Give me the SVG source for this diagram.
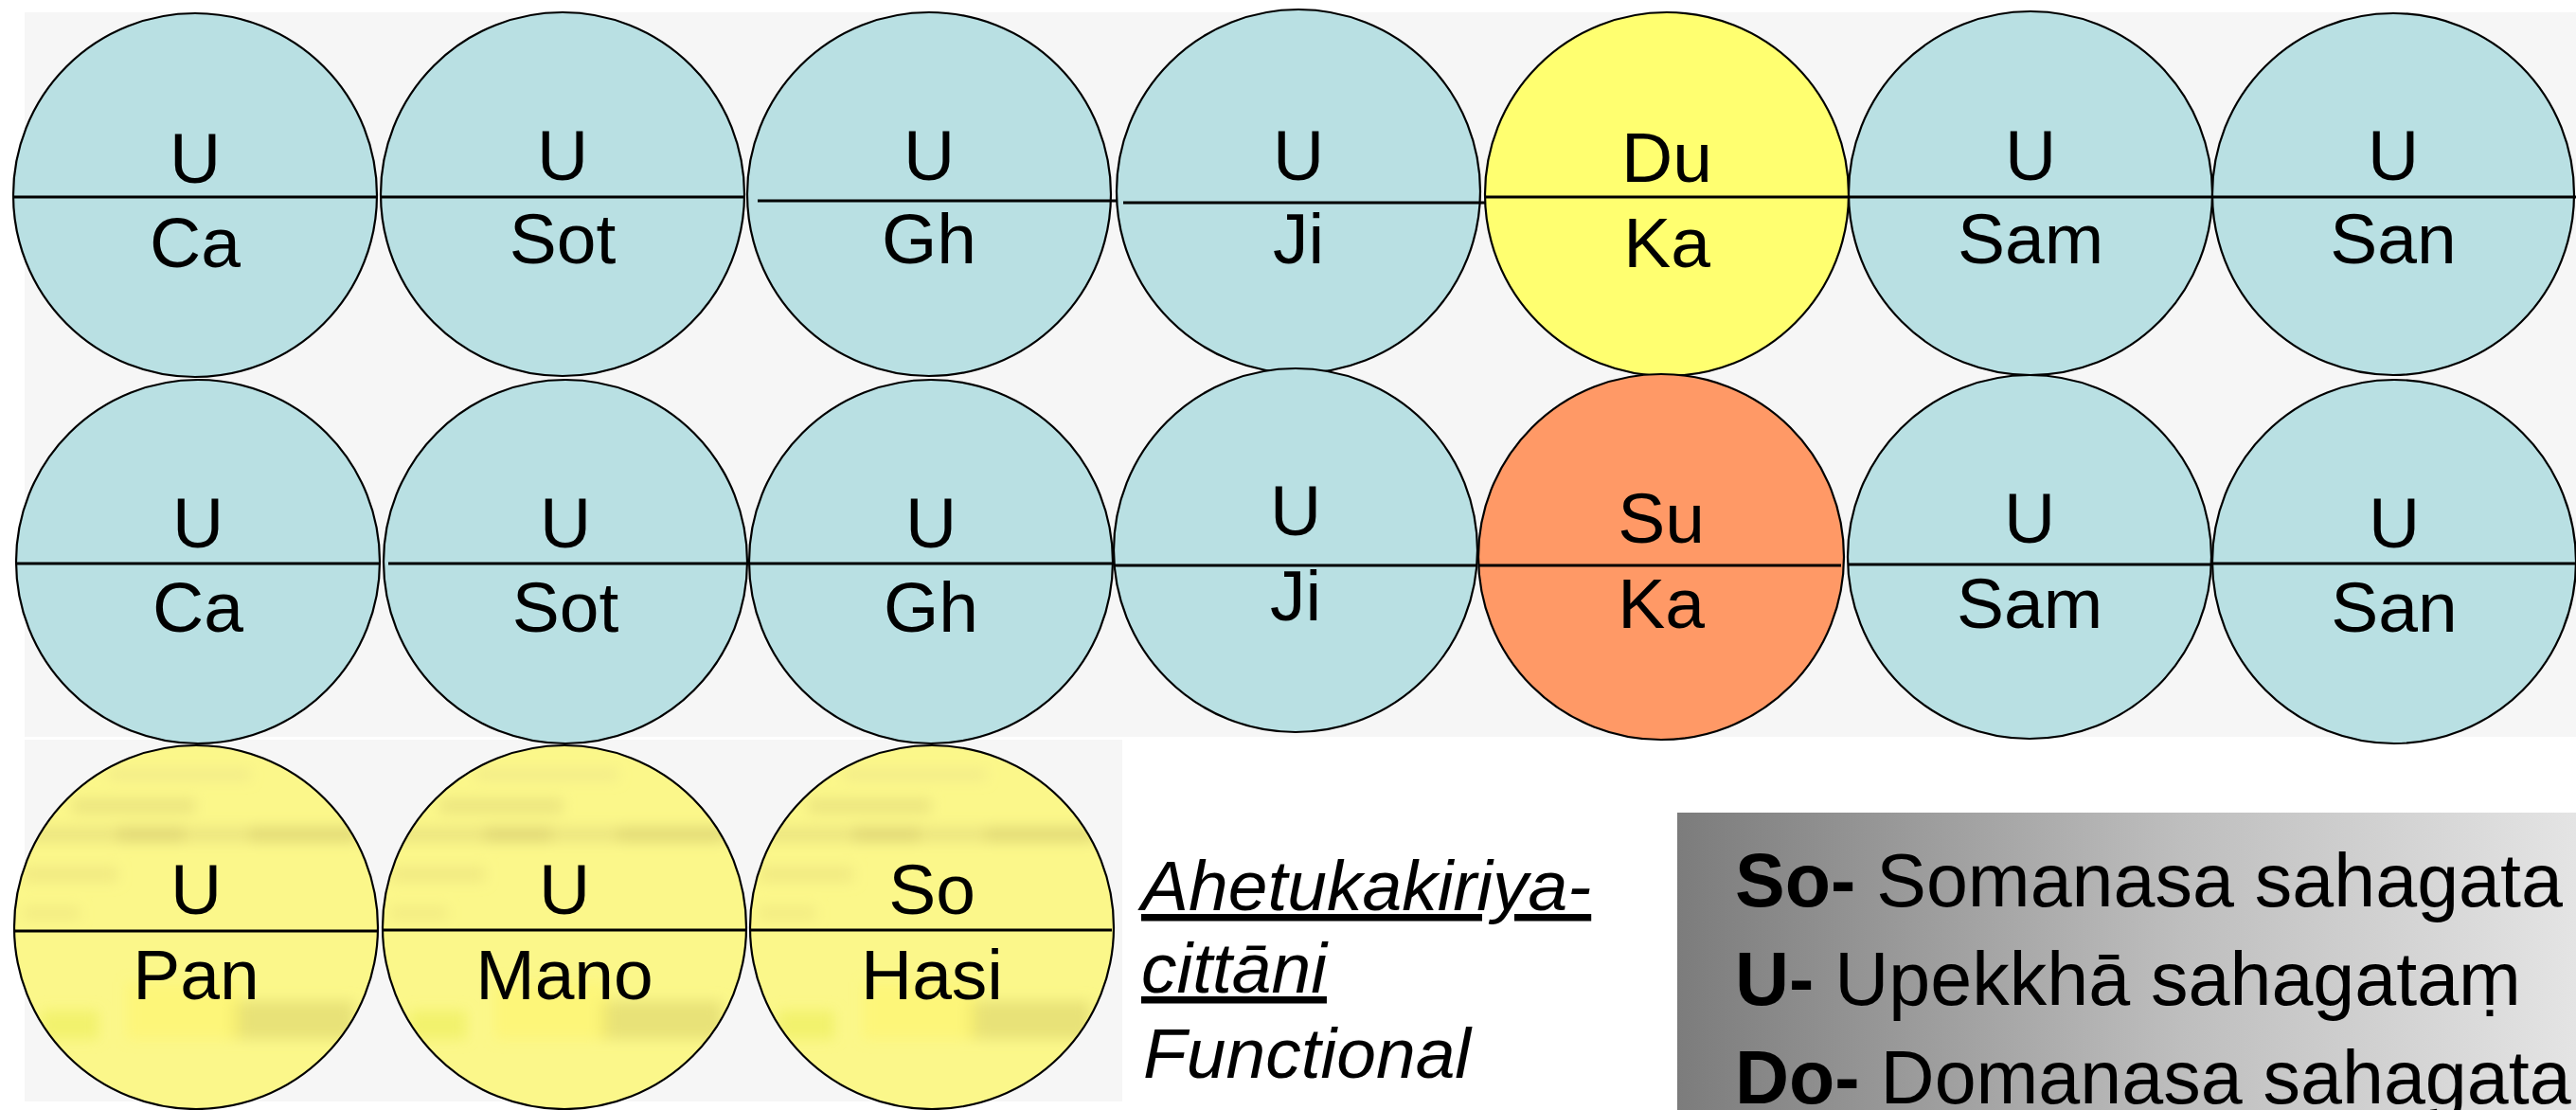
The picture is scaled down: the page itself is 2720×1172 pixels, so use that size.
<svg xmlns="http://www.w3.org/2000/svg" width="2720" height="1172" viewBox="0 0 2720 1172">
<style>
  .bg { fill: #f6f6f6; }
  .c { stroke: #000; stroke-width: 2.2; }
  .blue { fill: #b9e0e3; }
  .yel { fill: #ffff70; }
  .org { fill: #ff9966; }
  .tex { fill: url(#yeltex); }
  .div { stroke: #000; stroke-width: 3; }
  .t { font-family: "Liberation Sans", Arial, sans-serif; font-size: 75px; fill: #000; text-anchor: middle; }
  .side { font-family: "Liberation Sans", Arial, sans-serif; font-size: 75px; font-style: italic; fill: #000; }
  .leg { font-family: "Liberation Sans", Arial, sans-serif; font-size: 79px; fill: #000; }
  .b { font-weight: bold; }
</style>
<defs>
  <linearGradient id="legGrad" x1="1771" y1="0" x2="2720" y2="0" gradientUnits="userSpaceOnUse">
    <stop offset="0" stop-color="#7c7c7c"/>
    <stop offset="0.56" stop-color="#bebebe"/>
    <stop offset="1" stop-color="#e4e4e4"/>
  </linearGradient>
  <filter id="blur" x="-0.2" y="-0.2" width="1.4" height="1.4">
    <feGaussianBlur stdDeviation="7"/>
  </filter>
  <pattern id="yeltex" patternUnits="userSpaceOnUse" x="14" y="787" width="388.5" height="386">
    <rect width="388.5" height="386" fill="#fbf78a"/>
    <g filter="url(#blur)">
      <rect x="100" y="26" width="150" height="10" fill="#ece487" opacity="0.7"/>
      <rect x="62" y="56" width="130" height="16" fill="#e6de7c" opacity="0.7"/>
      <rect x="10" y="86" width="365" height="16" fill="#e6de7c" opacity="0.7"/>
      <rect x="110" y="86" width="70" height="16" fill="#dad170" opacity="0.6"/>
      <rect x="250" y="86" width="110" height="16" fill="#dcd470" opacity="0.6"/>
      <rect x="10" y="128" width="100" height="16" fill="#ece47f" opacity="0.7"/>
      <rect x="10" y="170" width="60" height="14" fill="#ece47f" opacity="0.6"/>
      <rect x="230" y="270" width="130" height="40" fill="#e0d870" opacity="0.7"/>
      <rect x="30" y="280" width="60" height="30" fill="#eef060" opacity="0.7"/>
      <rect x="120" y="250" width="120" height="60" fill="#fff56a" opacity="0.5"/>
    </g>
  </pattern>
</defs>

<g id="backgrounds">
  <rect class="bg" x="26" y="13" width="2694" height="765"/>
  <rect class="bg" x="26" y="781" width="1159" height="382"/>
</g>

<!-- Row 1 -->
<g id="r1c1"><circle class="c blue" cx="206" cy="206" r="192"/><line class="div" x1="14" y1="208" x2="398" y2="208"/><text class="t" x="206" y="193">U</text><text class="t" x="206" y="282">Ca</text></g>
<g id="r1c2"><circle class="c blue" cx="594" cy="205" r="192"/><line class="div" x1="402" y1="208" x2="786" y2="208"/><text class="t" x="594" y="190">U</text><text class="t" x="594" y="278">Sot</text></g>
<g id="r1c3"><circle class="c blue" cx="981" cy="205" r="192"/><line class="div" x1="800" y1="212" x2="1184" y2="212"/><text class="t" x="981" y="190">U</text><text class="t" x="981" y="278">Gh</text></g>
<g id="r1c4"><circle class="c blue" cx="1371" cy="202" r="192"/><line class="div" x1="1186" y1="214" x2="1570" y2="214"/><text class="t" x="1371" y="190">U</text><text class="t" x="1371" y="278">Ji</text></g>
<g id="r1c5"><circle class="c yel" cx="1760" cy="205" r="192"/><line class="div" x1="1568" y1="208" x2="1952" y2="208"/><text class="t" x="1760" y="192">Du</text><text class="t" x="1760" y="282">Ka</text></g>
<g id="r1c6"><circle class="c blue" cx="2144" cy="204" r="192"/><line class="div" x1="1952" y1="208" x2="2336" y2="208"/><text class="t" x="2144" y="190">U</text><text class="t" x="2144" y="278">Sam</text></g>
<g id="r1c7"><circle class="c blue" cx="2527" cy="205" r="191"/><line class="div" x1="2336" y1="208" x2="2720" y2="208"/><text class="t" x="2527" y="190">U</text><text class="t" x="2527" y="278">San</text></g>

<!-- Row 2 -->
<g id="r2c1"><circle class="c blue" cx="209" cy="593" r="192"/><line class="div" x1="17" y1="595" x2="400" y2="595"/><text class="t" x="209" y="578">U</text><text class="t" x="209" y="667">Ca</text></g>
<g id="r2c2"><circle class="c blue" cx="597" cy="593" r="192"/><line class="div" x1="410" y1="595" x2="790" y2="595"/><text class="t" x="597" y="578">U</text><text class="t" x="597" y="667">Sot</text></g>
<g id="r2c3"><circle class="c blue" cx="983" cy="593" r="192"/><line class="div" x1="791" y1="595" x2="1174" y2="595"/><text class="t" x="983" y="578">U</text><text class="t" x="983" y="667">Gh</text></g>
<g id="r2c4"><circle class="c blue" cx="1368" cy="581" r="192"/><line class="div" x1="1176" y1="597" x2="1560" y2="597"/><text class="t" x="1368" y="565">U</text><text class="t" x="1368" y="655">Ji</text></g>
<g id="r2c5"><circle class="c org" cx="1754" cy="588" r="193"/><line class="div" x1="1561" y1="597" x2="1944" y2="597"/><text class="t" x="1754" y="573">Su</text><text class="t" x="1754" y="663">Ka</text></g>
<g id="r2c6"><circle class="c blue" cx="2143" cy="588" r="192"/><line class="div" x1="1952" y1="596" x2="2334" y2="596"/><text class="t" x="2143" y="573">U</text><text class="t" x="2143" y="663">Sam</text></g>
<g id="r2c7"><circle class="c blue" cx="2528" cy="593" r="192"/><line class="div" x1="2336" y1="595" x2="2720" y2="595"/><text class="t" x="2528" y="578">U</text><text class="t" x="2528" y="667">San</text></g>

<!-- Row 3 -->
<g id="r3c1"><circle class="c tex" cx="207" cy="979" r="192"/><line class="div" x1="15" y1="983" x2="398" y2="983"/><text class="t" x="207" y="965">U</text><text class="t" x="207" y="1055">Pan</text></g>
<g id="r3c2"><circle class="c tex" cx="596" cy="979" r="192"/><line class="div" x1="403" y1="982" x2="787" y2="982"/><text class="t" x="596" y="965">U</text><text class="t" x="596" y="1055">Mano</text></g>
<g id="r3c3"><circle class="c tex" cx="984" cy="979" r="192"/><line class="div" x1="792" y1="982" x2="1174" y2="982"/><text class="t" x="984" y="965">So</text><text class="t" x="984" y="1055">Hasi</text></g>

<g id="title">
  <text class="side" x="1205" y="961" text-decoration="underline">Ahetukakiriya-</text>
  <text class="side" x="1205" y="1048" text-decoration="underline">cittāni</text>
  <text class="side" x="1207" y="1138">Functional</text>
</g>

<g id="legend">
  <rect x="1771" y="858" width="949" height="314" fill="url(#legGrad)"/>
  <text class="leg" x="1832" y="957"><tspan class="b">So-</tspan> Somanasa sahagata</text>
  <text class="leg" x="1832" y="1061"><tspan class="b">U-</tspan> Upekkhā sahagataṃ</text>
  <text class="leg" x="1832" y="1165"><tspan class="b">Do-</tspan> Domanasa sahagata</text>
</g>
</svg>
